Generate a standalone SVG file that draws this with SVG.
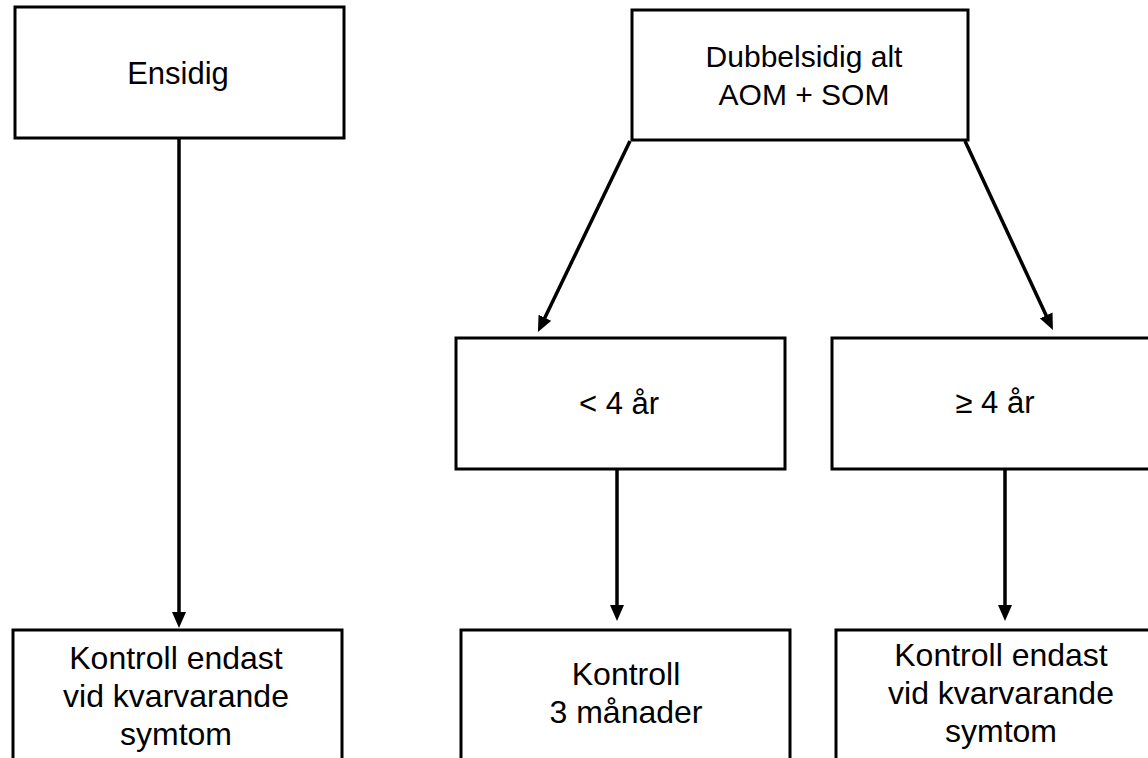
<svg xmlns="http://www.w3.org/2000/svg" width="1148" height="758" viewBox="0 0 1148 758">
<style>
.box{fill:#fff;stroke:#000;stroke-width:3}
.t{font-family:"Liberation Sans",Arial,sans-serif;font-size:31px;fill:#000;text-anchor:middle}
.td{font-family:"Liberation Sans",Arial,sans-serif;font-size:30px;fill:#000;text-anchor:middle}
.tb{font-family:"Liberation Sans",Arial,sans-serif;font-size:32px;fill:#000;text-anchor:middle}
.c{stroke:#000;stroke-width:3.5;fill:none;marker-end:url(#ah)}
</style>
<defs>
<marker id="ah" viewBox="0 0 16 14" refX="2" refY="7" markerWidth="16" markerHeight="14" markerUnits="userSpaceOnUse" orient="auto">
<path d="M0,0 L16,7 L0,14 z" fill="#000"/>
</marker>
</defs>
<rect width="1148" height="758" fill="#fff"/>
<g id="connectors">
<line class="c" x1="179" y1="139" x2="179" y2="614"/>
<line class="c" x1="630" y1="141" x2="544" y2="319.5"/>
<line class="c" x1="965" y1="141" x2="1047" y2="317.2"/>
<line class="c" x1="617" y1="469" x2="617" y2="607"/>
<line class="c" x1="1005" y1="469" x2="1005" y2="607"/>
</g>
<g id="ensidig">
<rect class="box" x="15" y="7" width="329" height="131"/>
<text class="t" x="178" y="84">Ensidig</text>
</g>
<g id="dubbelsidig">
<rect class="box" x="632" y="10" width="336" height="130"/>
<text class="td" x="804" y="67">Dubbelsidig alt</text>
<text class="td" x="804" y="105">AOM + SOM</text>
</g>
<g id="under4">
<rect class="box" x="456" y="338" width="329" height="131"/>
<text class="t" x="619" y="414">&lt; 4 år</text>
</g>
<g id="over4">
<rect class="box" x="832" y="338" width="330" height="131"/>
<text class="t" x="995" y="413">≥ 4 år</text>
</g>
<g id="kontroll-left">
<rect class="box" x="13" y="630" width="329" height="170"/>
<text class="tb" x="176" y="669">Kontroll endast</text>
<text class="tb" x="176" y="707">vid kvarvarande</text>
<text class="tb" x="176" y="745">symtom</text>
</g>
<g id="kontroll-3man">
<rect class="box" x="461" y="630" width="329" height="170"/>
<text class="tb" x="626" y="685">Kontroll</text>
<text class="tb" x="626" y="723">3 månader</text>
</g>
<g id="kontroll-right">
<rect class="box" x="836" y="630" width="330" height="170"/>
<text class="tb" x="1001" y="666">Kontroll endast</text>
<text class="tb" x="1001" y="704">vid kvarvarande</text>
<text class="tb" x="1001" y="742">symtom</text>
</g>
</svg>
